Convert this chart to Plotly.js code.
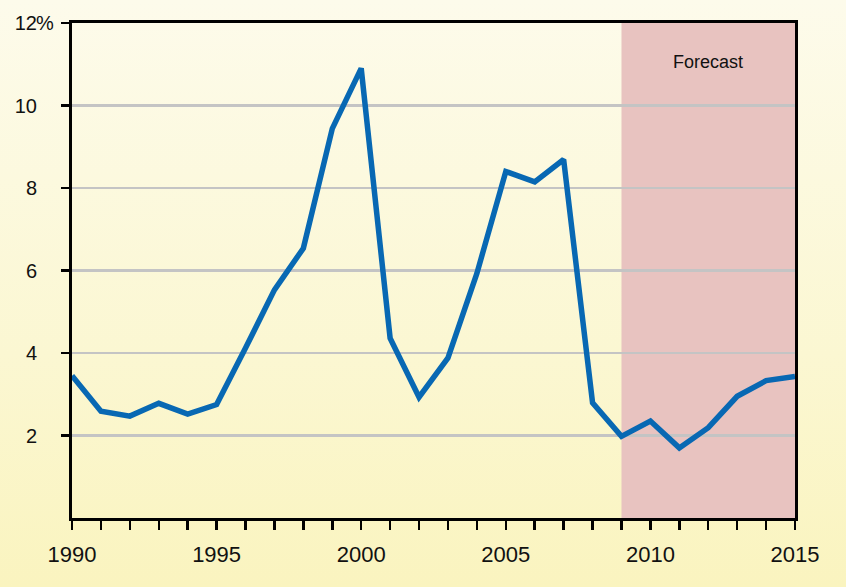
<!DOCTYPE html>
<html>
<head>
<meta charset="utf-8">
<script src="https://cdn.plot.ly/plotly-3.0.1.min.js"></script>
<style>
html, body { margin:0; padding:0; width:846px; height:587px; overflow:hidden;
  background: linear-gradient(to bottom, #fdfbeb 0%, #fbf7d2 60%, #faf4bf 100%); }
#chart { width:846px; height:587px; }
</style>
</head>
<body>
<div id="chart"></div>
<script>
const years = [1990,1991,1992,1993,1994,1995,1996,1997,1998,1999,2000,2001,2002,2003,2004,2005,2006,2007,2008,2009,2010,2011,2012,2013,2014,2015];
const values = [3.45,2.59,2.47,2.78,2.52,2.75,4.12,5.53,6.54,9.44,10.9,4.36,2.93,3.88,5.93,8.40,8.15,8.69,2.79,1.98,2.35,1.70,2.19,2.95,3.33,3.43];
const xTickLabels = years.map(y => (y % 5 === 0 ? String(y) : ''));
const yTickVals = [2,4,6,8,10,12];
const yTickLabels = ['2','4','6','8','10','12'];
const yUnit = '%';
const forecastStart = 2009, forecastEnd = 2015;
const forecastLabel = 'Forecast';

const trace = {
  x: years, y: values, type: 'scatter', mode: 'lines',
  line: {color: '#0868b3', width: 5.5},
  hoverinfo: 'skip'
};

const FONT = 'Liberation Sans, Arial, sans-serif';

const layout = {
  width: 846, height: 587,
  margin: {l: 72, r: 51, t: 23, b: 69},
  paper_bgcolor: 'rgba(0,0,0,0)',
  plot_bgcolor: 'rgba(0,0,0,0)',
  showlegend: false,
  font: {family: FONT, color: '#111'},
  xaxis: {
    range: [1990, 2015], tickmode: 'array', tickvals: years, ticktext: xTickLabels,
    ticks: 'outside', ticklen: 9, tickwidth: 2.5, tickcolor: '#000',
    showline: true, linecolor: '#000', linewidth: 3, mirror: true,
    showgrid: false, zeroline: false, ticklabelstandoff: 6,
    tickfont: {size: 22, color: '#111', family: FONT}
  },
  yaxis: {
    range: [0, 12], tickmode: 'array', tickvals: yTickVals, ticktext: yTickLabels,
    ticks: 'outside', ticklen: 8, tickwidth: 2.5, tickcolor: '#000',
    showline: true, linecolor: '#000', linewidth: 3, mirror: true,
    showgrid: true, gridcolor: '#c4c4c4', gridwidth: 2.5, zeroline: false,
    ticklabelstandoff: 20,
    tickfont: {size: 20, color: '#111', family: FONT}
  },
  shapes: [{
    type: 'rect', xref: 'x', yref: 'y', x0: forecastStart, x1: forecastEnd, y0: 0, y1: 12,
    fillcolor: '#e8c3c0', line: {width: 0}, layer: 'below'
  }],
  annotations: [{
    x: (forecastStart + forecastEnd) / 2, y: 11.05, xref: 'x', yref: 'y',
    text: forecastLabel, showarrow: false,
    font: {size: 18, color: '#111', family: FONT}
  }, {
    x: (38 - 72) / 723, y: 12, xref: 'paper', yref: 'y', xanchor: 'left', yanchor: 'middle',
    text: yUnit, showarrow: false, xshift: -4,
    font: {size: 20, color: '#111', family: FONT}
  }]
};

Plotly.newPlot('chart', [trace], layout, {displayModeBar: false, staticPlot: true});
</script>
</body>
</html>
